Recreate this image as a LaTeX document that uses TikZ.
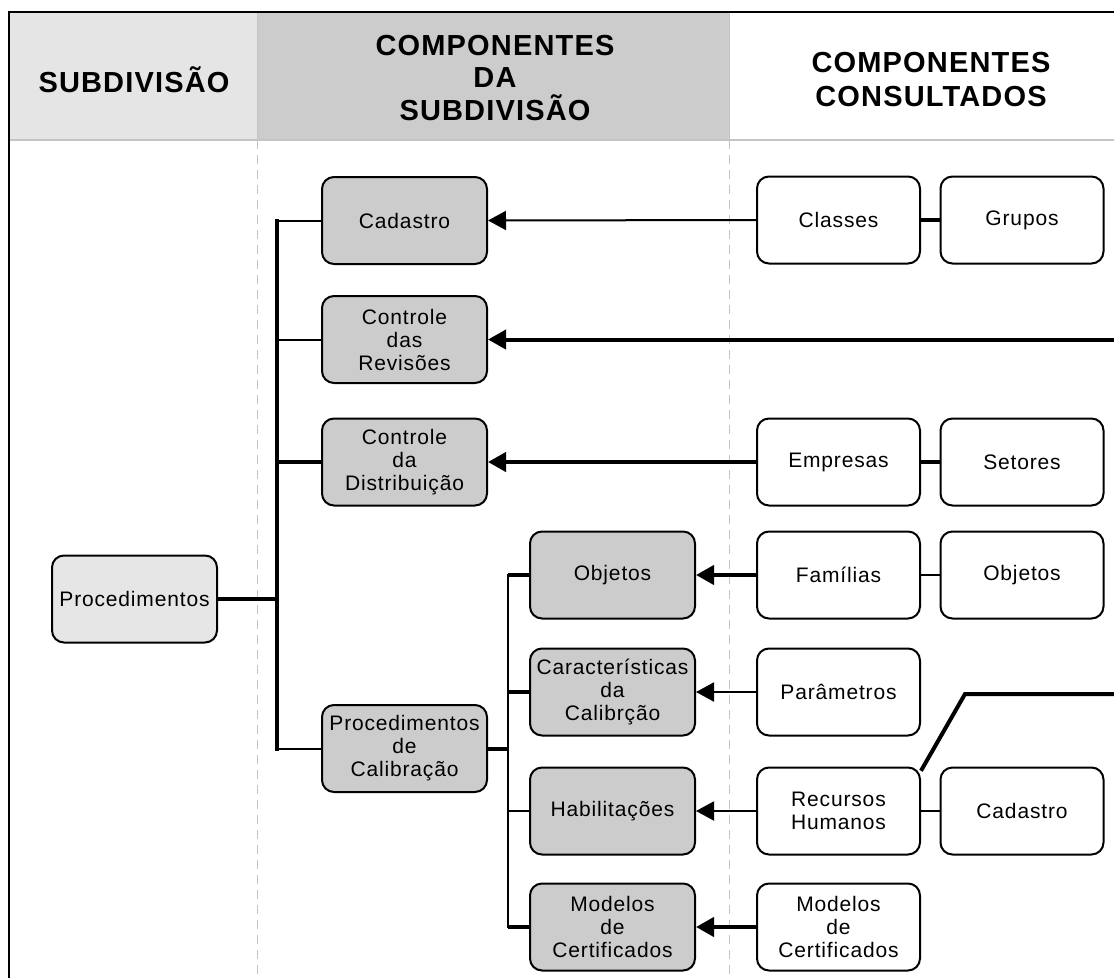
\documentclass[tikz,border=0pt]{standalone}
\usepackage{fontspec}
\setmainfont{Liberation Sans}
\usetikzlibrary{arrows.meta}

\definecolor{hdrlight}{HTML}{E5E5E5}
\definecolor{hdrmid}{HTML}{CCCCCC}
\definecolor{rulegray}{HTML}{C4C4C4}
\definecolor{boxlight}{HTML}{E6E6E6}
\definecolor{boxmid}{HTML}{CCCCCC}

\newcommand\cardfont{\fontsize{21}{23}\selectfont\addfontfeature{LetterSpace=4}}
\newcommand\hdrfont{\bfseries\addfontfeature{LetterSpace=4}}

\begin{document}
\begin{tikzpicture}[x=1pt,y=-1pt,
  card/.style={draw, line width=2pt, rounded corners=12pt,
    minimum width=165pt, minimum height=87pt, inner sep=2pt,
    align=center, font=\cardfont},
  graycard/.style={card, fill=boxmid},
  whitecard/.style={card, fill=white, minimum width=163pt},
  hdr/.style={align=center, inner sep=0pt},
  fat/.style={line width=4pt},
  mid/.style={line width=2.5pt},
  slim/.style={line width=2pt},
  arr/.style={-{Triangle[length=18pt,width=19pt]}},
  guide/.style={rulegray, line width=1pt, dash pattern=on 9pt off 6pt}]

\useasboundingbox (0,0) rectangle (1114,978);

% header band
\fill[hdrlight] (9,12) rectangle (257,140);
\fill[hdrmid] (257,12) rectangle (729,140);
\draw[rulegray, line width=1pt] (257,12) -- (257,140);
\draw[rulegray, line width=1pt] (729,12) -- (729,140);
\draw[rulegray, line width=1.5pt] (9,140) -- (1114,140);

% column guides
\draw[guide] (257,140) -- (257,978);
\draw[guide] (729,140) -- (729,978);

% outer frame
\draw[line width=2.5pt] (1114,12) -- (9,12) -- (9,978);

% header titles
\node[hdr, font=\fontsize{29}{32}\selectfont\hdrfont] (hsub) at (134,80) {SUBDIVISÃO};
\node[hdr, font=\fontsize{29}{32.5}\selectfont\hdrfont] (hcomp) at (495,78) {COMPONENTES\\DA\\SUBDIVISÃO};
\node[hdr, font=\fontsize{29}{34}\selectfont\hdrfont] (hcons) at (931,80) {COMPONENTES\\CONSULTADOS};

% subdivision and its components
\node[card, fill=boxlight] (proc) at (134.5,599) {Procedimentos};
\node[graycard] (cad) at (404.5,220.5) {Cadastro};
\node[graycard] (crev) at (404.5,339.5) {Controle\\das\\Revisões};
\node[graycard] (cdist) at (404.5,462) {Controle\\da\\Distribuição};
\node[graycard] (pcal) at (404.5,748.5) {Procedimentos\\de\\Calibração};
\node[graycard] (obj) at (612.5,575) {Objetos};
\node[graycard] (carac) at (612.5,692) {Características\\da\\Calibrção};
\node[graycard] (habil) at (612.5,811) {Habilitações};
\node[graycard] (modl) at (612.5,927) {Modelos\\de\\Certificados};

% consulted components
\node[whitecard] (classes) at (838.5,220) {Classes};
\node[whitecard] (grupos) at (1022,220) {Grupos};
\node[whitecard] (empr) at (838.5,462) {Empresas};
\node[whitecard] (setor) at (1022,462) {Setores};
\node[whitecard] (famil) at (838.5,575) {Famílias};
\node[whitecard] (objc) at (1022,575) {Objetos};
\node[whitecard] (param) at (838.5,692) {Parâmetros};
\node[whitecard] (rh) at (838.5,811) {Recursos\\Humanos};
\node[whitecard] (cadc) at (1022,811) {Cadastro};
\node[whitecard] (modc) at (838.5,927) {Modelos\\de\\Certificados};

% tree trunks
\coordinate (trunkA) at (277,0);
\coordinate (trunkB) at (508,0);

\draw[fat] (proc.east) -- (proc.east -| trunkA);
\draw[fat, line cap=rect] (cad.west -| trunkA) -- (pcal.west -| trunkA);
\draw[slim] (cad.west -| trunkA) -- (cad.west);
\draw[slim] (crev.west -| trunkA) -- (crev.west);
\draw[fat] (cdist.west -| trunkA) -- (cdist.west);
\draw[slim] (pcal.west -| trunkA) -- (pcal.west);

\draw[fat] (pcal.east) -- (pcal.east -| trunkB);
\draw[mid, line cap=rect] (obj.west -| trunkB) -- (modl.west -| trunkB);
\draw[fat] (obj.west -| trunkB) -- (obj.west);
\draw[fat] (carac.west -| trunkB) -- (carac.west);
\draw[slim] (habil.west -| trunkB) -- (habil.west);
\draw[fat] (modl.west -| trunkB) -- (modl.west);

% consultation arrows
\coordinate (revsrc) at (1114,339.5);
\draw[slim, arr] (classes.west) -- (cad.east);
\draw[fat, arr] (revsrc) -- (crev.east);
\draw[fat, arr] (empr.west) -- (cdist.east);
\draw[fat, arr] (famil.west) -- (obj.east);
\draw[slim, arr] (param.west) -- (carac.east);
\draw[slim, arr] (rh.west) -- (habil.east);
\draw[fat, arr] (modc.west) -- (modl.east);

% links between consulted components
\draw[fat] (classes.east) -- (grupos.west);
\draw[fat] (empr.east) -- (setor.west);
\draw[slim] (famil.east) -- (objc.west);
\draw[slim] (rh.east) -- (cadc.west);

\coordinate (rhknee) at (965,694);
\coordinate (rhout) at (1114,694);
\draw[fat] (rh.26) -- (rhknee) -- (rhout);

\end{tikzpicture}
\end{document}
